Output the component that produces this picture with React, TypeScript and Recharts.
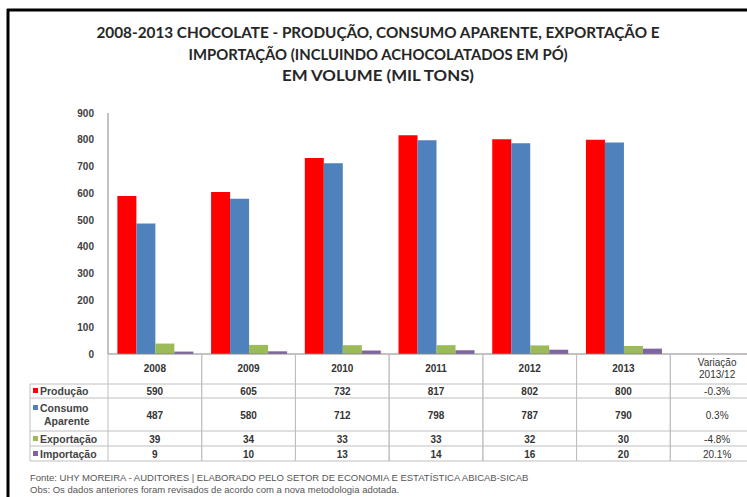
import React from 'react';
import { BarChart, Bar, XAxis, YAxis } from 'recharts';

// values (mil tons)
const years = ['2008', '2009', '2010', '2011', '2012', '2013'];
const variationLabel = 'Variação 2013/12';
const producao = [590, 605, 732, 817, 802, 800];
const consumo = [487, 580, 712, 798, 787, 790];
const exportacao = [39, 34, 33, 33, 32, 30];
const importacao = [9, 10, 13, 14, 16, 20];
// variação 2013/12 in %, order: produção, consumo, exportação, importação
const variacaoPct = [-0.3, 0.3, -4.8, 20.1];
const yTicks = [0, 100, 200, 300, 400, 500, 600, 700, 800, 900];

const series = [
  { key: 'producao', label: 'Produção', color: '#FF0000' },
  { key: 'consumo', label: 'Consumo Aparente', color: '#4F81BD' },
  { key: 'exportacao', label: 'Exportação', color: '#9BBB59' },
  { key: 'importacao', label: 'Importação', color: '#8064A2' },
];

const values: Record<string, number[]> = { producao, consumo, exportacao, importacao };

const chartData = [...years, variationLabel].map((cat, i) => {
  const row: Record<string, string | number> = { cat };
  series.forEach((s, si) => {
    row[s.key] = i < years.length ? values[s.key][i] : variacaoPct[si] / 100;
  });
  return row;
});

// layout
const CHART_W = 800;
const CHART_H = 497;
const PLOT_LEFT = 108;
const PLOT_RIGHT = 764;
const BAND = (PLOT_RIGHT - PLOT_LEFT) / chartData.length;
const BASE_Y = 354;
// table row separators (offsets below the baseline)
const ROW_LINES = [30, 44, 77, 92, 107];
const ROW_TEXT = [37, 61, 85, 100];
const GRID = '#BFBFBF';
const FONT = '"Liberation Sans", Arial, sans-serif';

const fmtPct = (v: number) => `${v.toFixed(1)}%`;

const TableTick = (props: any) => {
  const { x, y, index } = props;
  const half = BAND / 2;
  const isVar = index === years.length;
  const cells = isVar
    ? variacaoPct.map(fmtPct)
    : series.map((s) => String(values[s.key][index]));
  const bottom = ROW_LINES[ROW_LINES.length - 1];
  return (
    <g fontFamily={FONT} fontSize={10} fontWeight="bold" fill="#333">
      <line x1={x - half} x2={x - half} y1={y} y2={y + bottom} stroke={GRID} />
      <line x1={x + half} x2={x + half} y1={y} y2={y + bottom} stroke={GRID} />
      {ROW_LINES.map((o) => (
        <line key={o} x1={x - half} x2={x + half} y1={y + o} y2={y + o} stroke={GRID} />
      ))}
      {isVar ? (
        <text x={x} y={y + 12} textAnchor="middle" fontWeight="normal">
          <tspan x={x} dy={0}>Variação</tspan>
          <tspan x={x} dy={12}>2013/12</tspan>
        </text>
      ) : (
        <text x={x} y={y + 18} textAnchor="middle">{years[index]}</text>
      )}
      {cells.map((c, i) => (
        <text key={i} x={x} y={y + ROW_TEXT[i] + 3.5} textAnchor="middle" fontWeight={isVar ? 'normal' : 'bold'}>
          {c}
        </text>
      ))}
    </g>
  );
};

const titleLines = [
  { text: '2008-2013 CHOCOLATE - PRODUÇÃO, CONSUMO APARENTE, EXPORTAÇÃO E', y: 38, w: 563 },
  { text: 'IMPORTAÇÃO (INCLUINDO ACHOCOLATADOS EM PÓ)', y: 60, w: 379 },
  { text: 'EM VOLUME (MIL TONS)', y: 81, w: 192 },
];

const Overlay = () => (
  <svg width={747} height={497} style={{ position: 'absolute', left: 0, top: 0, pointerEvents: 'none' }}>
    <line x1={7} x2={747} y1={10} y2={10} stroke="#000" strokeWidth={3} />
    <line x1={8} x2={8} y1={9} y2={497} stroke="#000" strokeWidth={3} />
    {titleLines.map((t) => (
      <text
        key={t.text}
        x={378}
        y={t.y}
        textAnchor="middle"
        fontFamily="Lato, 'Open Sans', sans-serif"
        fontWeight="bold"
        fontSize={15}
        fill="#262626"
        textLength={t.w}
        lengthAdjust="spacingAndGlyphs"
      >
        {t.text}
      </text>
    ))}
    {/* legend column of the data table */}
    <line x1={30} x2={30} y1={BASE_Y + ROW_LINES[0]} y2={BASE_Y + ROW_LINES[4]} stroke={GRID} />
    {ROW_LINES.map((o) => (
      <line key={o} x1={30} x2={PLOT_LEFT} y1={BASE_Y + o} y2={BASE_Y + o} stroke={GRID} />
    ))}
    <g fontFamily={FONT} fontSize={10.5} fontWeight="bold" fill="#444">
      {series.map((s, i) => {
        const cy = BASE_Y + ROW_TEXT[i];
        if (s.key === 'consumo') {
          return (
            <g key={s.key}>
              <rect x={33} y={cy - 10} width={5} height={5} fill={s.color} />
              <text x={40} y={cy - 3}>Consumo</text>
              <text x={44} y={cy + 10}>Aparente</text>
            </g>
          );
        }
        return (
          <g key={s.key}>
            <rect x={33} y={cy - 3} width={5} height={5} fill={s.color} />
            <text x={40} y={cy + 3.5}>{s.label}</text>
          </g>
        );
      })}
    </g>
    <g fontFamily={FONT} fontSize={9.5} fill="#555">
      <text x={30} y={481}>Fonte: UHY MOREIRA - AUDITORES | ELABORADO PELO SETOR DE ECONOMIA E ESTATÍSTICA ABICAB-SICAB</text>
      <text x={30} y={493}>Obs: Os dados anteriores foram revisados de acordo com a nova metodologia adotada.</text>
    </g>
  </svg>
);

export default function App() {
  return (
    <div style={{ position: 'absolute', left: 0, top: 0, width: 747, height: 497, overflow: 'hidden', background: '#fff' }}>
      <div style={{ position: 'absolute', left: 0, top: 0 }}>
        <BarChart
          width={CHART_W}
          height={CHART_H}
          data={chartData}
          margin={{ top: 113, right: CHART_W - PLOT_RIGHT, bottom: 33, left: PLOT_LEFT - 40 }}
          barCategoryGap="10%"
          barGap={0}
        >
          <XAxis
            dataKey="cat"
            height={110}
            interval={0}
            tickLine={false}
            tickSize={0}
            tickMargin={0}
            axisLine={{ stroke: '#868686' }}
            tick={<TableTick />}
          />
          <YAxis
            width={40}
            domain={[0, 900]}
            ticks={yTicks}
            allowDataOverflow
            tickLine={false}
            tickMargin={8}
            axisLine={{ stroke: '#868686' }}
            tick={{ fontFamily: FONT, fontSize: 10, fontWeight: 'bold', fill: '#404040' }}
          />
          {series.map((s) => (
            <Bar key={s.key} dataKey={s.key} name={s.label} fill={s.color} isAnimationActive={false} />
          ))}
        </BarChart>
      </div>
      <Overlay />
    </div>
  );
}
